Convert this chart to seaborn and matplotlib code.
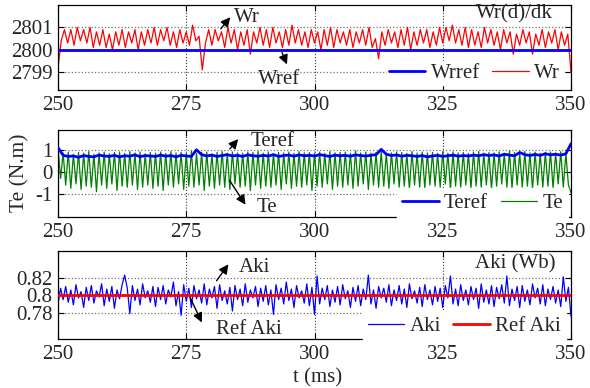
import numpy as np
import pandas as pd
import matplotlib
matplotlib.use("Agg")
import matplotlib.pyplot as plt
import seaborn as sns
from matplotlib.lines import Line2D
from matplotlib.patches import FancyArrowPatch

# ---------------- data ----------------
t_start, t_end = 250, 350
xticks = [250, 275, 300, 325, 350]

wr = [2799.2, 2800.4, 2800.9, 2800.3, 2800.9, 2800.2, 2801.0, 2800.4, 2800.9, 2800.3,
      2801.0, 2800.1, 2800.8, 2800.2, 2800.9, 2800.1, 2800.7, 2800.0, 2800.8, 2800.2,
      2800.9, 2800.1, 2800.8, 2800.3, 2800.9, 2800.0, 2800.8, 2800.2, 2800.9, 2800.3,
      2801.0, 2800.2, 2800.9, 2800.4, 2801.0, 2800.2, 2800.8, 2800.1, 2800.9, 2800.3,
      2800.8, 2800.2, 2801.1, 2800.4, 2800.6, 2799.1, 2800.3, 2800.9, 2800.2, 2800.9,
      2800.4, 2800.8, 2800.1, 2801.0, 2800.3, 2800.9, 2800.0, 2800.8, 2800.2, 2800.9,
      2799.8, 2800.8, 2800.3, 2801.0, 2800.2, 2800.9, 2800.1, 2801.0, 2800.3, 2800.8,
      2800.1, 2800.9, 2800.2, 2801.1, 2800.3, 2800.9, 2800.2, 2800.8, 2800.1, 2800.9,
      2800.3, 2800.8, 2800.0, 2800.9, 2800.2, 2801.0, 2800.1, 2800.9, 2800.3, 2800.8,
      2800.2, 2800.9, 2800.1, 2800.8, 2800.3, 2800.9, 2800.2, 2801.0, 2800.1, 2800.5,
      2799.6, 2800.8, 2800.2, 2800.9, 2800.3, 2800.8, 2800.1, 2800.9, 2800.2, 2801.0,
      2800.0, 2800.8, 2800.2, 2800.9, 2800.3, 2800.9, 2800.1, 2800.8, 2800.2, 2801.0,
      2800.3, 2801.0, 2800.4, 2801.1, 2800.3, 2800.9, 2800.2, 2801.0, 2800.1, 2800.9,
      2800.2, 2800.8, 2800.1, 2801.0, 2800.3, 2800.9, 2800.2, 2800.8, 2800.0, 2800.9,
      2800.3, 2800.8, 2799.8, 2800.7, 2800.2, 2800.9, 2800.3, 2800.8, 2799.8, 2800.7,
      2800.2, 2800.9, 2800.1, 2800.8, 2800.3, 2800.9, 2800.0, 2800.8, 2800.2, 2800.7,
      2799.0]
wrref = [2800.0, 2800.0]

teref = [1.10, 0.75, 0.70, 0.72, 0.66, 0.74, 0.70, 0.68, 0.76, 0.72,
         0.70, 0.75, 0.68, 0.73, 0.71, 0.77, 0.69, 0.74, 0.72, 0.70,
         0.76, 0.71, 0.74, 0.68, 0.75, 0.72, 0.70, 1.00, 0.78, 0.72,
         0.76, 0.70, 0.74, 0.78, 0.72, 0.75, 0.70, 0.77, 0.73, 0.71,
         0.75, 0.72, 0.78, 0.70, 0.74, 0.76, 0.71, 0.77, 0.73, 0.75,
         0.72, 0.78, 0.74, 0.70, 0.76, 0.73, 0.75, 0.71, 0.77, 0.74,
         0.72, 0.75, 0.78, 1.02, 0.80, 0.74, 0.77, 0.71, 0.75, 0.73,
         0.70, 0.74, 0.68, 0.72, 0.75, 0.70, 0.73, 0.76, 0.71, 0.74,
         0.72, 0.76, 0.73, 0.78, 0.74, 0.77, 0.72, 0.80, 0.76, 0.73,
         0.88, 0.78, 0.74, 0.79, 0.75, 0.82, 0.77, 0.80, 0.76, 0.82,
         1.28]

te = [1.10, -0.30, 0.85, -0.60, 0.90, -0.75, 0.80, -0.55, 0.88, -0.80,
      0.85, -0.65, 0.92, -0.70, 0.80, -0.90, 0.86, -0.60, 0.90, -0.75,
      0.82, -0.55, 0.88, -0.85, 0.90, -0.65, 0.84, -0.70, 0.92, -0.60,
      0.86, -0.80, 0.90, -0.70, 0.82, -0.60, 0.88, -0.75, 0.85, -0.65,
      0.90, -0.85, 0.84, -0.60, 0.92, -0.70, 0.86, -0.55, 0.88, -0.80,
      0.85, -0.65, 0.95, -0.70, 0.84, -0.60, 0.88, -0.85, 0.90, -0.65,
      0.82, -0.75, 0.88, -0.60, 0.92, -0.70, 0.85, -0.80, 0.90, -0.55,
      0.86, -0.70, 0.84, -0.65, 0.90, -0.85, 0.88, -0.60, 0.92, -0.75,
      0.85, -0.65, 0.90, -0.70, 0.82, -0.60, 0.88, -0.80, 0.86, -0.55,
      0.90, -0.75, 0.84, -0.65, 0.92, -0.70, 0.86, -0.60, 0.88, -0.85,
      0.85, -0.65, 0.90, -0.70, 0.84, -0.55, 0.92, -0.80, 0.86, -0.65,
      0.88, -0.70, 0.90, -0.60, 0.84, -0.75, 0.95, -0.65, 0.86, -0.55,
      0.90, -0.80, 0.85, -0.60, 0.88, -0.70, 0.92, -0.65, 0.84, -0.75,
      0.86, -0.55, 0.90, -0.70, 0.88, -0.65, 0.84, -0.80, 0.92, -0.60,
      0.85, -0.70, 0.90, -0.75, 0.86, -0.60, 0.88, -0.65, 0.84, -0.70,
      0.92, -0.55, 0.85, -0.80, 0.90, -0.65, 0.86, -0.70, 0.88, -0.60,
      0.84, -0.75, 0.90, -0.65, 0.92, -0.70, 0.85, -0.60, 0.88, -0.80,
      0.86, -0.65, 0.90, -0.55, 0.84, -0.70, 0.95, -0.75, 0.88, -0.60,
      0.85, -0.70, 0.92, -0.65, 0.86, -0.80, 0.90, -0.60, 0.84, -0.70,
      0.88, -0.65, 0.90, -0.75, 0.86, -0.55, 0.92, -0.70, 0.85, -0.60,
      -0.95]

aki = [0.790, 0.808, 0.795, 0.810, 0.792, 0.806, 0.789, 0.812, 0.797, 0.804,
       0.786, 0.809, 0.794, 0.811, 0.791, 0.805, 0.798, 0.813, 0.788, 0.807,
       0.793, 0.810, 0.785, 0.806, 0.796, 0.812, 0.823, 0.808, 0.779, 0.811,
       0.794, 0.807, 0.789, 0.813, 0.797, 0.805, 0.792, 0.810, 0.787, 0.809,
       0.795, 0.811, 0.790, 0.806, 0.798, 0.815, 0.788, 0.804, 0.777, 0.812,
       0.793, 0.808, 0.786, 0.811, 0.796, 0.806, 0.791, 0.813, 0.789, 0.807,
       0.797, 0.810, 0.785, 0.812, 0.794, 0.805, 0.790, 0.809, 0.782, 0.811,
       0.795, 0.807, 0.788, 0.813, 0.792, 0.806, 0.797, 0.810, 0.787, 0.808,
       0.793, 0.811, 0.789, 0.806, 0.778, 0.812, 0.795, 0.808, 0.790, 0.815,
       0.794, 0.807, 0.786, 0.811, 0.797, 0.805, 0.791, 0.813, 0.788, 0.809,
       0.778, 0.822, 0.790, 0.808, 0.795, 0.811, 0.787, 0.806, 0.792, 0.810,
       0.789, 0.812, 0.796, 0.805, 0.786, 0.809, 0.793, 0.811, 0.788, 0.807,
       0.795, 0.823, 0.790, 0.806, 0.785, 0.810, 0.797, 0.808, 0.792, 0.812,
       0.788, 0.806, 0.794, 0.811, 0.790, 0.807, 0.786, 0.813, 0.796, 0.805,
       0.791, 0.809, 0.787, 0.812, 0.795, 0.806, 0.789, 0.810, 0.793, 0.808,
       0.786, 0.811, 0.797, 0.822, 0.790, 0.807, 0.788, 0.812, 0.794, 0.806,
       0.789, 0.810, 0.795, 0.808, 0.785, 0.813, 0.792, 0.806, 0.790, 0.811,
       0.787, 0.809, 0.796, 0.812, 0.791, 0.822, 0.788, 0.807, 0.794, 0.810,
       0.786, 0.811, 0.793, 0.806, 0.789, 0.813, 0.797, 0.808, 0.790, 0.812,
       0.788, 0.807, 0.795, 0.810, 0.791, 0.806, 0.787, 0.821, 0.793, 0.809,
       0.776]
ref_aki = [0.8, 0.8]

# ---------------- style ----------------
sns.set_theme(style="ticks")
plt.rcParams["font.family"] = ["Liberation Serif", "DejaVu Serif"]

W, H = 590, 388
fig = plt.figure(figsize=(W / 100, H / 100), dpi=100)

def fx(px):
    return px / W

def fy(py):
    return 1 - py / H

left, right = 58, 571
panels = [(5, 90), (130, 217), (251, 339)]
axes = [fig.add_axes([fx(left), fy(b), fx(right - left), (b - t) / H]) for t, b in panels]

FS = 15

def style_axis(ax, ylim, yticks, yticklabels):
    ax.set_xlim(t_start, t_end)
    ax.set_ylim(*ylim)
    ax.set_xticks(xticks)
    ax.set_yticks(yticks)
    ax.set_yticklabels(yticklabels)
    ax.tick_params(direction="in", top=True, right=True, labelsize=FS,
                   length=4, width=0.8, color="black", pad=4)
    ax.xaxis.grid(True, linestyle=":", color="0.2", linewidth=0.8)
    ax.yaxis.grid(True, linestyle=":", color="0.45", linewidth=0.9)
    for s in ax.spines.values():
        s.set_visible(True)
        s.set_color("black")
        s.set_linewidth(0.9)
    ax.set_xlabel("")
    ax.set_ylabel("")

# Panel 1
ax1 = axes[0]
t_wr = np.linspace(t_start, t_end, len(wr))
sns.lineplot(x=t_wr, y=wr, ax=ax1, color="#ff0000", lw=0.9, estimator=None, sort=False, zorder=2)
sns.lineplot(x=[t_start, t_end], y=wrref, ax=ax1, color="#0000ff", lw=2.0, estimator=None, sort=False, zorder=3)
style_axis(ax1, (2798.2, 2802.0), [2799, 2800, 2801], ["2799", "2800", "2801"])

# Panel 2
ax2 = axes[1]
t_te = np.linspace(t_start, t_end, len(te))
t_teref = np.linspace(t_start, t_end, len(teref))
sns.lineplot(x=t_te, y=te, ax=ax2, color="#008000", lw=0.9, estimator=None, sort=False, zorder=2)
sns.lineplot(x=t_teref, y=teref, ax=ax2, color="#0000ff", lw=2.0, estimator=None, sort=False, zorder=3)
style_axis(ax2, (-2.05, 1.9), [-1, 0, 1], ["-1", "0", "1"])

# Panel 3
ax3 = axes[2]
t_aki = np.linspace(t_start, t_end, len(aki))
sns.lineplot(x=t_aki, y=aki, ax=ax3, color="#0000ff", lw=0.9, estimator=None, sort=False, zorder=2)
sns.lineplot(x=[t_start, t_end], y=ref_aki, ax=ax3, color="#ff0000", lw=2.0, estimator=None, sort=False, zorder=3)
style_axis(ax3, (0.75, 0.8505), [0.78, 0.8, 0.82], ["0.78", "0.8", "0.82"])

# legends
def add_legend(ax, items, xr, yc, pad=0.25):
    handles = [Line2D([], [], color=c, lw=lw) for (_, c, lw) in items]
    labels = [l for (l, _, _) in items]
    leg = ax.legend(handles, labels, loc="center right", bbox_to_anchor=(fx(xr), fy(yc)),
                    bbox_transform=fig.transFigure, ncol=2, frameon=True, fontsize=FS,
                    handlelength=1.75, handletextpad=0.25, columnspacing=0.6,
                    borderpad=pad, borderaxespad=0)
    fr = leg.get_frame()
    fr.set_facecolor("white")
    fr.set_edgecolor("white")
    fr.set_alpha(1)
    fr.set_boxstyle("square", pad=0)
    leg.set_zorder(10)

add_legend(ax1, [("Wrref", "#0000ff", 2.0), ("Wr", "#ff0000", 0.9)], 562, 73, pad=0.1)
add_legend(ax2, [("Teref", "#0000ff", 2.0), ("Te", "#008000", 0.9)], 568, 203)
add_legend(ax3, [("Aki", "#0000ff", 0.9), ("Ref Aki", "#ff0000", 2.0)], 566, 326)

# annotations
def arrow_note(text, x0, y0, x1, y1, tx, ty):
    fig.add_artist(FancyArrowPatch(
        (fx(x0), fy(y0)), (fx(x1), fy(y1)), transform=fig.transFigure,
        arrowstyle="-|>", mutation_scale=14, color="black", lw=1.0))
    fig.text(fx(tx), fy(ty), text, fontsize=FS, ha="left", va="center")

arrow_note("Wr", 219, 31, 232, 15, 234, 17)
arrow_note("Wref", 281, 50, 288, 67, 258, 80)
arrow_note("Teref", 228, 151, 240, 137, 251, 141)
arrow_note("Te", 228, 178, 247, 207, 257, 207)
arrow_note("Aki", 215, 283, 230, 262, 239, 267)
arrow_note("Ref Aki", 189, 295, 203, 325, 216, 330)
fig.text(fx(476), fy(14), "Wr(d)/dk", fontsize=FS, ha="left", va="center")
fig.text(fx(475), fy(264), "Aki (Wb)", fontsize=FS, ha="left", va="center")
fig.text(fx(20), fy(173), "Te (N.m)", fontsize=FS + 0.5, ha="center", va="center", rotation=90)
fig.text(fx(318), fy(378), "t (ms)", fontsize=FS, ha="center", va="center")

fig.savefig("out.png", dpi=100)
